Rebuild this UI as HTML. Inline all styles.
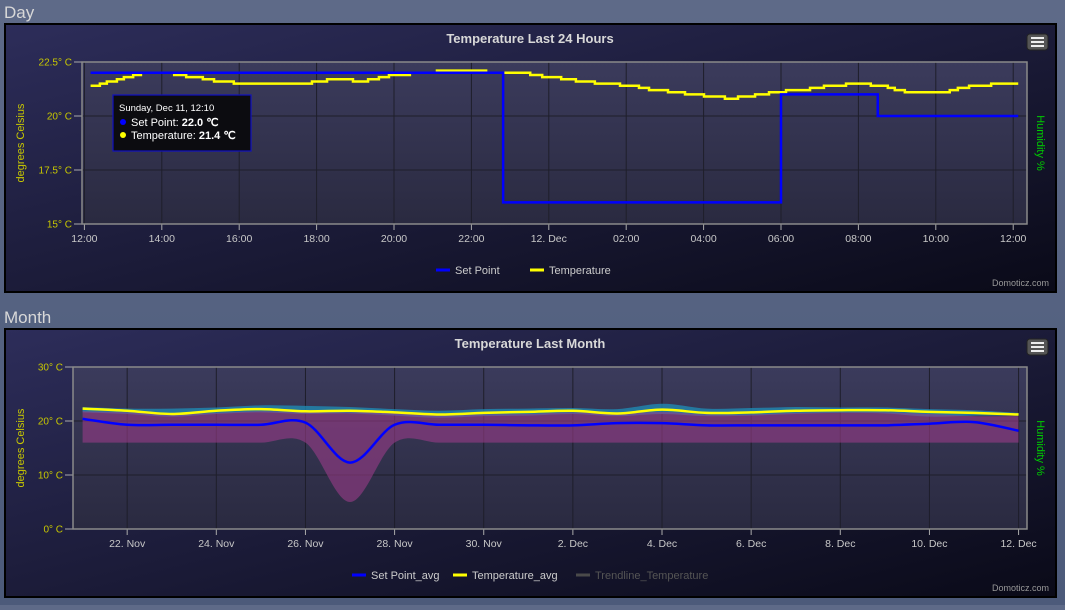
<!DOCTYPE html>
<html><head><meta charset="utf-8">
<style>
html,body{margin:0;padding:0;}
body{width:1065px;height:605px;overflow:hidden;background:linear-gradient(#5e6a88,#4c5a7a);font-family:"Liberation Sans",sans-serif;}
svg text{font-family:"Liberation Sans",sans-serif;}
</style></head>
<body>
<svg id="s" width="1065" height="605" xmlns="http://www.w3.org/2000/svg">
<defs>
<linearGradient id="pg" x1="0" y1="0" x2="1" y2="1">
<stop offset="0" stop-color="#2d2d5a"/><stop offset="1" stop-color="#0a0a18"/>
</linearGradient>
<linearGradient id="pa" x1="0" y1="0" x2="0" y2="1">
<stop offset="0" stop-color="#3b3b5c"/><stop offset="1" stop-color="#2a2a40"/>
</linearGradient>
</defs>
<text x="4" y="18" font-size="17" fill="#d8d8d8">Day</text>
<text x="4" y="323" font-size="17" fill="#d8d8d8">Month</text>
<g id="day"></g>
<g id="month"></g>
</svg>
<script>
// ---- Day data ----
const dayTickLabels = ["12:00","14:00","16:00","18:00","20:00","22:00","12. Dec","02:00","04:00","06:00","08:00","10:00","12:00"];
const dayYTicks = [15,17.5,20,22.5];
const dayYTickLabels = ["15° C","17.5° C","20° C","22.5° C"];
const spTimes = [0.16,10.82,10.82,18.0,18.0,20.5,20.5,24.13];
const spValues = [22.0,22.0,16.0,16.0,21.0,21.0,20.0,20.0];
const tempTimes = [0.16,0.40,0.58,0.84,1.02,1.26,1.46,2.32,2.63,3.06,3.35,3.86,5.88,6.27,6.94,7.33,7.61,7.87,8.41,9.11,10.38,10.82,11.52,11.83,12.32,12.70,13.19,13.84,14.33,14.59,15.08,15.52,16.01,16.55,16.89,17.33,17.69,18.13,18.75,19.11,19.68,20.32,20.76,20.94,21.20,22.36,22.57,22.86,23.43];
const tempValues = [21.4,21.5,21.6,21.7,21.8,21.9,22.0,21.9,21.8,21.7,21.6,21.5,21.6,21.7,21.6,21.7,21.8,21.9,22.0,22.1,22.0,22.0,21.9,21.8,21.7,21.6,21.5,21.4,21.3,21.2,21.1,21.0,20.9,20.8,20.9,21.0,21.1,21.2,21.3,21.4,21.5,21.4,21.3,21.2,21.1,21.2,21.3,21.4,21.5];
const tempEnd = 24.13;
// ---- Month data ----
const monthTickLabels = ["22. Nov","24. Nov","26. Nov","28. Nov","30. Nov","2. Dec","4. Dec","6. Dec","8. Dec","10. Dec","12. Dec"];
const monthYTicks = [0,10,20,30];
const monthYTickLabels = ["0° C","10° C","20° C","30° C"];
const spAvg = [20.4,19.3,19.3,19.3,19.3,19.7,12.3,19.3,19.3,19.3,19.2,19.2,19.6,19.6,19.2,19.2,19.2,19.2,19.2,19.5,19.8,18.2];
const spMin = [16,16,16,16,16,16,5.0,16,16,16,16,16,16,16,16,16,16,16,16,16,16,16];
const spMax = [21.8,21.6,21.2,21.5,21.8,21.6,21.6,21.6,21.0,21.2,21.3,21.6,21.3,21.7,21.2,21.2,21.5,21.6,21.6,21.3,20.9,20.9];
const tempAvg = [22.3,21.9,21.3,21.9,22.2,21.8,21.9,21.6,21.2,21.5,21.7,21.9,21.4,22.1,21.5,21.6,21.9,22.0,22.0,21.7,21.5,21.2];
const tempMax = [22.6,22.3,22.3,22.5,22.9,22.8,22.6,22.2,21.9,22.2,22.3,22.4,22.2,23.2,22.3,22.4,22.6,22.5,22.5,22.2,22.0,21.5];
const tempMin = [21.6,21.3,20.8,21.3,21.6,21.3,21.4,21.0,20.6,20.9,21.0,21.3,20.9,21.3,20.9,21.0,21.3,21.5,21.4,20.8,21.0,21.0];

const NS="http://www.w3.org/2000/svg";
function mk(p,t,a,txt){const e=document.createElementNS(NS,t);for(const k in a)e.setAttribute(k,a[k]);if(txt!==undefined)e.textContent=txt;p.appendChild(e);return e;}

function panel(g,y0,y1,title,plot){
  const r=mk(g,'rect',{x:5,y:y0,width:1051,height:y1-y0,fill:'url(#pg)',stroke:'#000','stroke-width':2});
  
  
  const t=mk(g,'text',{x:530,y:y0+19,'text-anchor':'middle','font-size':13,'font-weight':'bold',fill:'#d8d8d8'},title);
  
  
  const mb=mk(g,'g',{});
  
  
  mk(mb,'rect',{x:1027,y:y0+10,width:21,height:16,rx:3,fill:'#555',stroke:'#222'});
  for(let i=0;i<3;i++)mk(mb,'rect',{x:1031,y:y0+13+i*4,width:13,height:2,fill:'#eee'});
  const d=mk(g,'text',{x:1049,y:y1-6,'text-anchor':'end','font-size':9,fill:'#999'},'Domoticz.com');
  
  
  const pa=mk(g,'rect',{x:plot.l,y:plot.t,width:plot.r-plot.l,height:plot.b-plot.t,fill:'url(#pa)'});
  
  
  const yt=mk(g,'text',{transform:`translate(${24},${(plot.t+plot.b)/2}) rotate(-90)`,'text-anchor':'middle','font-size':11,fill:'#c8c800'},'degrees Celsius');
  
  
  const ht=mk(g,'text',{transform:`translate(${1037},${(plot.t+plot.b)/2}) rotate(90)`,'text-anchor':'middle','font-size':11,fill:'#00cc00'},'Humidity %');
  
  
}
function axes(g,plot,xTicks,xLabels,yTicks,yLabels,ys){
  xTicks.forEach((x,i)=>{
    mk(g,'line',{x1:x,x2:x,y1:plot.t,y2:plot.b,stroke:'#1e1e2a','stroke-width':1});
    mk(g,'line',{x1:x,x2:x,y1:plot.b,y2:plot.b+6,stroke:'#aaa'});
    const t=mk(g,'text',{x:x,y:plot.b+18,'text-anchor':'middle','font-size':10.5,fill:'#c8c8c8'},xLabels[i]);
    
    
  });
  yTicks.forEach((v,i)=>{
    const y=ys(v);
    mk(g,'line',{x1:plot.l,x2:plot.r,y1:y,y2:y,stroke:'#1e1e2a'});
    mk(g,'line',{x1:plot.l-8,x2:plot.l,y1:y,y2:y,stroke:'#aaa'});
    const t=mk(g,'text',{x:plot.l-10,y:y+3.5,'text-anchor':'end','font-size':10,fill:'#c8c800'},yLabels[i]);
    
    
  });
  mk(g,'rect',{x:plot.l,y:plot.t,width:plot.r-plot.l,height:plot.b-plot.t,fill:'none',stroke:'#8a8a8a','stroke-width':1.5});
}
function legend(g,y,items){
  items.forEach(it=>{
    const lg=mk(g,'g',{});
    
    
    mk(lg,'line',{x1:it.x,x2:it.x+14,y1:y,y2:y,stroke:it.c,'stroke-width':3});
    mk(lg,'text',{x:it.x+19,y:y+4,'font-size':11,fill:it.tc||'#ccc'},it.t);
  });
}
// ---- Day chart ----
(function(){
  const g=document.getElementById('day');
  const P={l:82,r:1027,t:62,b:224};
  panel(g,24,292,'Temperature Last 24 Hours',P);
  const xs=h=>84.4+h*38.7, ys=v=>224-(v-15)*21.6;
  axes(g,P,dayTickLabels.map((_,i)=>xs(i*2)),dayTickLabels,dayYTicks,dayYTickLabels,ys);
  let d='';
  tempTimes.forEach((t,i)=>{const nx=i+1<tempTimes.length?tempTimes[i+1]:tempEnd;d+=(i?'L':'M')+xs(t)+','+ys(tempValues[i])+'L'+xs(nx)+','+ys(tempValues[i]);});
  const tl=mk(g,'path',{d:d,fill:'none',stroke:'#ffff00','stroke-width':2.5});
  
  
  const sp=mk(g,'path',{d:spTimes.map((t,i)=>(i?'L':'M')+xs(t)+','+ys(spValues[i])).join(''),fill:'none',stroke:'#0000ff','stroke-width':2.5});
  
  
  const tt=mk(g,'g',{});
  
  
  mk(tt,'rect',{x:113,y:95,width:138,height:56,fill:'#0c0c10',stroke:'#1010c0','stroke-width':1.2});
  mk(tt,'text',{x:119,y:111,'font-size':9.5,fill:'#fff'},'Sunday, Dec 11, 12:10');
  mk(tt,'circle',{cx:123,cy:122,r:3,fill:'#0000ff'});
  mk(tt,'text',{x:131,y:126,'font-size':11,fill:'#fff'},'Set Point: ').appendChild(Object.assign(document.createElementNS(NS,'tspan'),{textContent:'22.0 ℃'})).setAttribute('font-weight','bold');
  mk(tt,'circle',{cx:123,cy:135,r:3,fill:'#ffff00'});
  mk(tt,'text',{x:131,y:139,'font-size':11,fill:'#fff'},'Temperature: ').appendChild(Object.assign(document.createElementNS(NS,'tspan'),{textContent:'21.4 ℃'})).setAttribute('font-weight','bold');
  legend(g,270,[{x:436,c:'#0000ff',t:'Set Point'},{x:530,c:'#ffff00',t:'Temperature'}]);
})();
// ---- Month chart ----
(function(){
  const g=document.getElementById('month');
  const P={l:73,r:1027,t:367,b:529};
  panel(g,329,597,'Temperature Last Month',P);
  const xs=i=>82.6+i*44.57, ys=v=>529-v*5.4;
  axes(g,P,monthTickLabels.map((_,i)=>xs(1+i*2)),monthTickLabels,monthYTicks,monthYTickLabels,ys);
  function curve(arr,move){
    const pts=arr.map((v,i)=>[xs(i),ys(v)]);let d=(move?'M':'L')+pts[0][0]+','+pts[0][1];
    for(let i=0;i<pts.length-1;i++){const p0=pts[Math.max(0,i-1)],p1=pts[i],p2=pts[i+1],p3=pts[Math.min(pts.length-1,i+2)];
      d+='C'+(p1[0]+(p2[0]-p0[0])/6)+','+(p1[1]+(p2[1]-p0[1])/6)+' '+(p2[0]-(p3[0]-p1[0])/6)+','+(p2[1]-(p3[1]-p1[1])/6)+' '+p2[0]+','+p2[1];}
    return d;
  }
  function band(hi,lo){return curve(hi,true)+curve(lo.slice().reverse().map(v=>v),false).replace(/^L[^C]*/,'L'+xs(lo.length-1)+','+ys(lo[lo.length-1]))+'Z';}
  function bandPath(hi,lo){
    const up=curve(hi,true);
    const rev=lo.slice().reverse();
    const pts=rev.map((v,k)=>[xs(lo.length-1-k),ys(v)]);
    let d='L'+pts[0][0]+','+pts[0][1];
    for(let i=0;i<pts.length-1;i++){const p0=pts[Math.max(0,i-1)],p1=pts[i],p2=pts[i+1],p3=pts[Math.min(pts.length-1,i+2)];
      d+='C'+(p1[0]+(p2[0]-p0[0])/6)+','+(p1[1]+(p2[1]-p0[1])/6)+' '+(p2[0]-(p3[0]-p1[0])/6)+','+(p2[1]-(p3[1]-p1[1])/6)+' '+p2[0]+','+p2[1];}
    return up+d+'Z';
  }
  const tb=mk(g,'path',{d:bandPath(tempMax,tempMin),fill:'#1f8fb8','fill-opacity':0.75});
  
  
  const sb=mk(g,'path',{d:bandPath(spMax,spMin),fill:'#9a3c88','fill-opacity':0.6});
  
  
  const sl=mk(g,'path',{d:curve(spAvg,true),fill:'none',stroke:'#0000ff','stroke-width':2.5});
  
  
  const tl=mk(g,'path',{d:curve(tempAvg,true),fill:'none',stroke:'#ffff00','stroke-width':2.5});
  
  
  legend(g,575,[{x:352,c:'#0000ff',t:'Set Point_avg'},{x:453,c:'#ffff00',t:'Temperature_avg'},{x:576,c:'#4a4a4a',t:'Trendline_Temperature',tc:'#555'}]);
})();
</script>
</body></html>
